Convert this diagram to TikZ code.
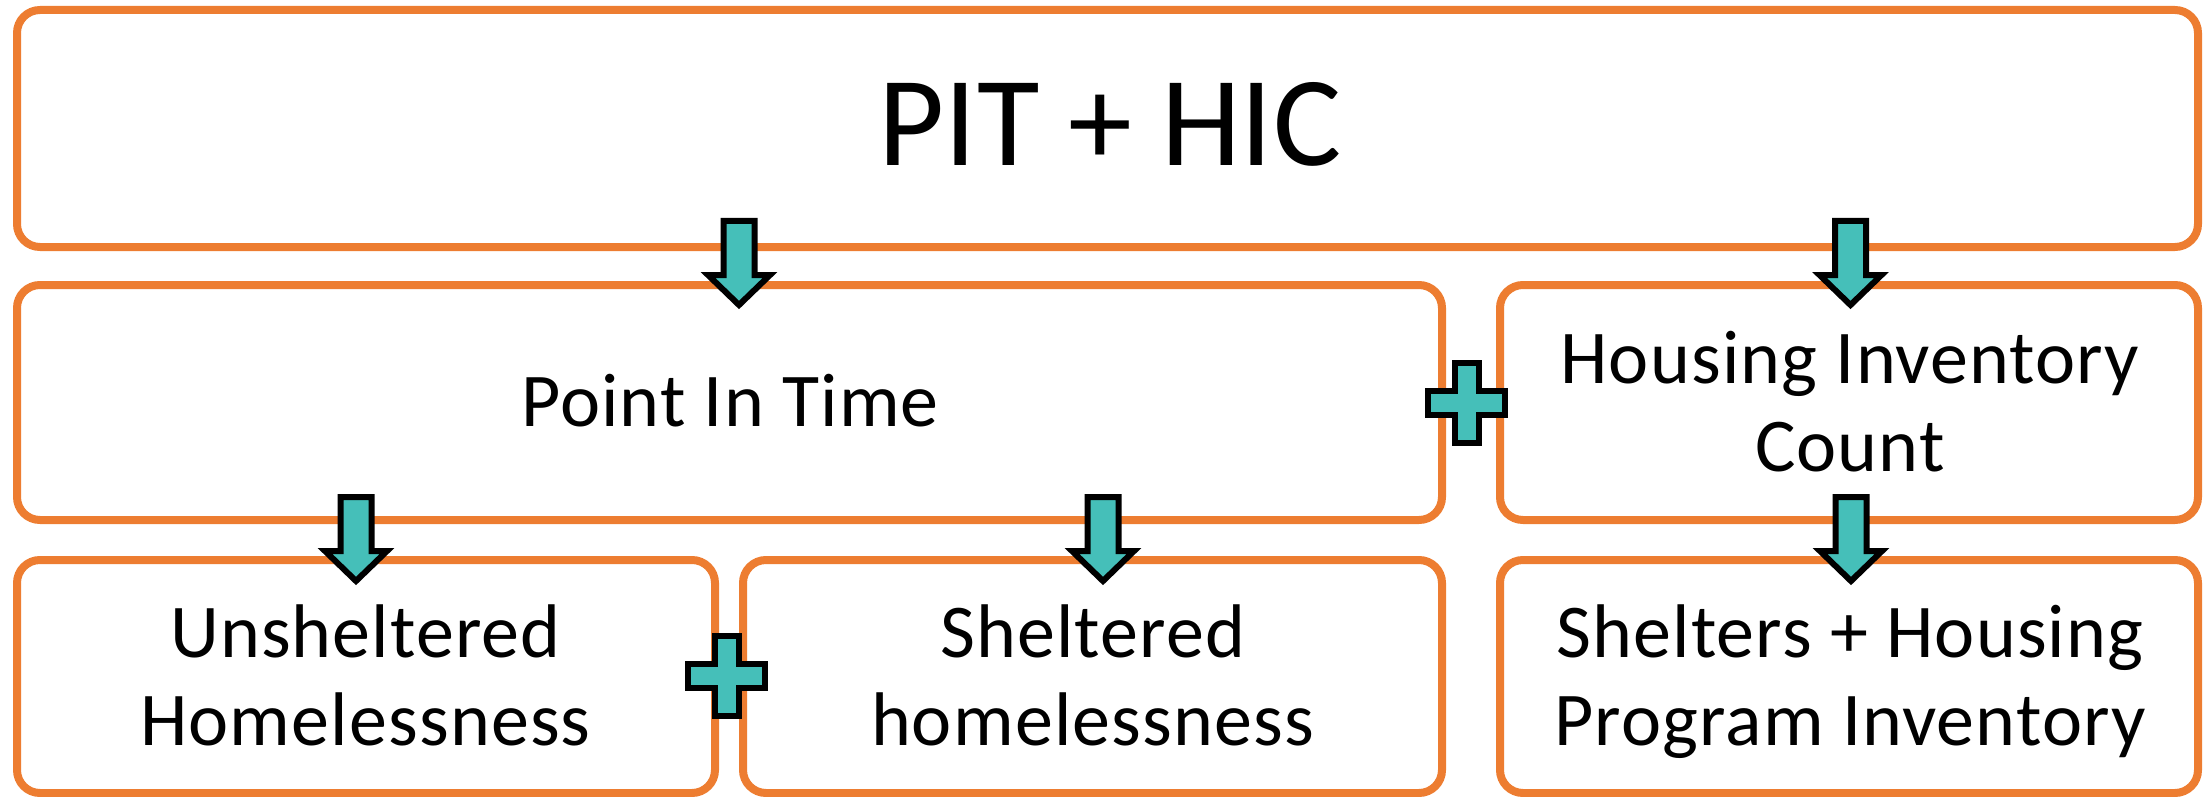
\documentclass[tikz,border=0pt]{standalone}
\usepackage{fontspec}
\setmainfont{Carlito}
\newfontfamily\bodyfont[LetterSpace=1.5]{Carlito}
\definecolor{boxorange}{HTML}{ED7D31}
\definecolor{tealfill}{HTML}{45BFB9}
\tikzset{
  box/.style={draw=boxorange, line width=4pt, rounded corners=11.5pt, rectangle, inner sep=0pt, fill=white},
  bigtext/.style={font=\fontsize{64}{72}\selectfont, inner sep=0pt, anchor=base},
  bodytext/.style={font=\bodyfont\fontsize{38}{44}\selectfont, inner sep=0pt, align=center, anchor=base},
  shapestyle/.style={draw=black, fill=tealfill, line width=3pt, miter limit=10},
  pics/blockdown/.style={code={
    \draw[shapestyle] (-15.5,0) -- (15.5,0) -- (15.5,54) -- (31,54) -- (0,84) -- (-31,54) -- (-15.5,54) -- cycle;}},
  pics/plussign/.style={code={
    \draw[shapestyle] (-12,-40) -- (12,-40) -- (12,-12) -- (38.5,-12) -- (38.5,12) -- (12,12) -- (12,40) -- (-12,40) -- (-12,12) -- (-38.5,12) -- (-38.5,-12) -- (-12,-12) -- cycle;}}
}
\begin{document}
\begin{tikzpicture}[x=0.5pt, y=-0.5pt]
\useasboundingbox (0,0) rectangle (2208,797);
% boxes
\node[box, minimum width=1090.5pt, minimum height=118.5pt] (top) at (1107.5,128.5) {};
\node[box, minimum width=712.5pt, minimum height=117.5pt] (pit) at (729.5,402.5) {};
\node[box, minimum width=349pt, minimum height=117.5pt] (hic) at (1849,402.5) {};
\node[box, minimum width=349pt, minimum height=116.5pt] (uns) at (366,676.5) {};
\node[box, minimum width=349.5pt, minimum height=116.5pt] (shel) at (1092.5,676.5) {};
\node[box, minimum width=349pt, minimum height=116.5pt] (inv) at (1849,676.5) {};
% texts
\node[bigtext] (ttop) at (1110,166) {PIT + HIC};
\node[bodytext] (tpit) at (730,426) {Point In Time};
\node[bodytext] (thic) at (1850,471) {Housing Inventory\\Count};
\node[bodytext] (tuns) at (365.5,745) {Unsheltered\\Homelessness};
\node[bodytext] (tshel) at (1092.5,745) {Sheltered\\homelessness};
\node[bodytext] (tinv) at (1850,745) {Shelters + Housing\\Program Inventory};
% arrows
\coordinate (a1) at (739,221);
\coordinate (a2) at (1850.5,221);
\coordinate (a3) at (356,497);
\coordinate (a4) at (1103,497);
\coordinate (a5) at (1851,497);
\pic at (a1) {blockdown};
\pic at (a2) {blockdown};
\pic at (a3) {blockdown};
\pic at (a4) {blockdown};
\pic at (a5) {blockdown};
% plus signs
\coordinate (p1) at (1466.5,403);
\coordinate (p2) at (726.5,675.5);
\pic at (p1) {plussign};
\pic at (p2) {plussign};
\end{tikzpicture}
\end{document}
